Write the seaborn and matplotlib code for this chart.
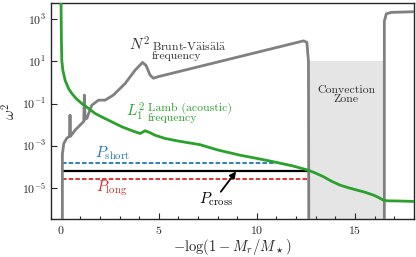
import numpy as np
import pandas as pd
import seaborn as sns
import matplotlib
matplotlib.use("Agg")
import matplotlib.pyplot as plt

# all curve values are log10(omega^2)
lamb_x = [0.0, 0.03, 0.05, 0.1, 0.22, 0.4, 0.56, 0.8, 1.07, 1.4, 1.75, 2.1,
          2.43, 2.8, 3.11, 3.5, 3.79, 4.05, 4.3, 4.55, 4.8, 5.3, 6.0, 7.1,
          8.0, 9.15, 10.0, 10.85, 11.8, 12.63, 13.0, 13.4, 13.8, 14.25,
          14.7, 15.1, 15.5, 15.95, 16.2, 16.45, 16.65, 17.3, 18.0]
lamb_logy = [5.0, 2.0, 1.05, 0.6, 0.1, -0.3, -0.52, -0.78, -1.0, -1.22,
             -1.47, -1.64, -1.79, -1.96, -2.1, -2.24, -2.34, -2.42, -2.29,
             -2.38, -2.5, -2.65, -2.78, -2.95, -3.2, -3.45, -3.6, -3.76,
             -3.95, -4.16, -4.3, -4.47, -4.68, -4.87, -5.0, -5.1, -5.2,
             -5.34, -5.45, -5.58, -5.61, -5.62, -5.64]

# Brunt-Vaisala, radiative core part
bv_core_x = [0.08, 0.08, 0.15, 0.3, 0.44, 0.47, 0.5, 0.73, 1.07, 1.17, 1.2,
             1.24, 1.33, 1.58, 1.92, 2.26, 2.68, 3.28, 3.79, 4.17, 4.35,
             4.55, 4.72, 5.0, 12.38, 12.55, 12.63, 12.65]
bv_core_logy = [-8.0, -3.4, -2.9, -2.65, -2.55, -1.55, -2.55, -2.26, -1.94,
                -1.85, -0.6, -1.75, -1.7, -1.08, -0.84, -0.84, -0.6, -0.05,
                0.58, 0.95, 0.8, 0.35, 0.2, 0.28, 1.97, 1.9, 1.0, -8.0]
# Brunt-Vaisala, envelope above the convection zone
bv_env_x = [16.5, 16.5, 16.6, 16.85, 18.0]
bv_env_logy = [-8.0, 2.9, 3.25, 3.32, 3.35]

conv_zone = (12.65, 16.5)
conv_top_logy = 1.0

p_start = 0.08
p_short_logy, p_short_end = -3.81, 10.9
p_cross_logy, p_cross_end = -4.19, 12.65
p_long_logy, p_long_end = -4.59, 12.65


def main():
    sns.set_style("ticks")
    plt.rcParams['font.family'] = 'serif'
    plt.rcParams['font.serif'] = ['cmr10', 'DejaVu Serif']
    plt.rcParams['mathtext.fontset'] = 'cm'
    plt.rcParams['axes.formatter.use_mathtext'] = True

    fig = plt.figure(figsize=(4.16, 2.57), dpi=100)
    ax = fig.add_axes([0.1226, 0.148, 0.872, 0.84])

    ax.fill_between(conv_zone, 1e-9, 10 ** conv_top_logy,
                    color='#e5e5e5', lw=0, zorder=0)

    lamb = pd.DataFrame({'x': lamb_x, 'y': 10 ** np.array(lamb_logy)})
    core = pd.DataFrame({'x': bv_core_x, 'y': 10 ** np.array(bv_core_logy)})
    env = pd.DataFrame({'x': bv_env_x, 'y': 10 ** np.array(bv_env_logy)})

    for df in (core, env):
        sns.lineplot(data=df, x='x', y='y', sort=False, estimator=None,
                     color='#808080', lw=2.0, ax=ax, zorder=3)
    sns.lineplot(data=lamb, x='x', y='y', sort=False, estimator=None,
                 color='#2ca02c', lw=2.0, ax=ax, zorder=4)

    ax.plot([p_start, p_short_end], [10 ** p_short_logy] * 2, ls='--',
            dashes=(2.5, 1.2), color='#1f77b4', lw=1.3, zorder=2)
    ax.plot([p_start, p_cross_end], [10 ** p_cross_logy] * 2,
            color='black', lw=1.6, zorder=2)
    ax.plot([p_start, p_long_end], [10 ** p_long_logy] * 2, ls='--',
            dashes=(2.5, 1.2), color='#d62728', lw=1.3, zorder=2)

    ax.set_yscale('log')
    ax.set_xlim(-0.5, 18)
    ax.set_ylim(10 ** -6.47, 10 ** 3.76)
    ax.set_yticks([1e-5, 1e-3, 1e-1, 1e1, 1e3])
    ax.yaxis.set_minor_locator(matplotlib.ticker.NullLocator())
    ax.set_xticks([0, 5, 10, 15])
    ax.set_xticks(np.arange(0, 18.5, 1), minor=True)
    ax.tick_params(which='both', direction='in', labelsize=8.5, width=0.8)
    ax.tick_params(which='major', length=4)
    ax.tick_params(which='minor', length=2)
    for s in ax.spines.values():
        s.set_linewidth(1.0)

    ax.set_xlabel(r'$-\log(1-M_r/M_\star)$', fontsize=10.5, labelpad=1)
    ax.set_ylabel(r'$\omega^2$', fontsize=11, labelpad=2)

    ax.text(3.5, 10 ** 1.77, r'$N^2$', fontsize=11, color='#333333',
            va='center', ha='left')
    ax.text(4.64, 10 ** 1.5,
            'Brunt-V$\\ddot{\\mathrm{a}}$is$\\ddot{\\mathrm{a}}$l$\\ddot{\\mathrm{a}}$\nfrequency',
            fontsize=8.5, color='#333333', va='center', ha='left',
            linespacing=0.85)
    ax.text(3.33, 10 ** -1.41, r'$L_1^2$', fontsize=11, color='#2ca02c',
            va='center', ha='left')
    ax.text(4.44, 10 ** -1.45, 'Lamb (acoustic)\nfrequency', fontsize=8.5,
            color='#2ca02c', va='center', ha='left', linespacing=0.85)
    ax.text(14.56, 10 ** -0.6, 'Convection\nZone', fontsize=8.5,
            color='#333333', va='center', ha='center', linespacing=0.95)
    ax.text(1.75, 10 ** -3.35, r'$P_{\rm short}$', fontsize=11,
            color='#1f77b4', va='center', ha='left')
    ax.text(1.8, 10 ** -5.0, r'$P_{\rm long}$', fontsize=11,
            color='#d62728', va='center', ha='left')
    ax.text(7.07, 10 ** -5.55, r'$P_{\rm cross}$', fontsize=11,
            color='black', va='center', ha='left')
    ax.annotate('', xy=(8.94, 10 ** -4.22), xytext=(8.16, 10 ** -5.18),
                arrowprops=dict(arrowstyle='-|>', color='black', lw=1.3,
                                mutation_scale=9, shrinkA=0, shrinkB=0))

    plt.savefig('out.png', dpi=100)


if __name__ == '__main__':
    main()
